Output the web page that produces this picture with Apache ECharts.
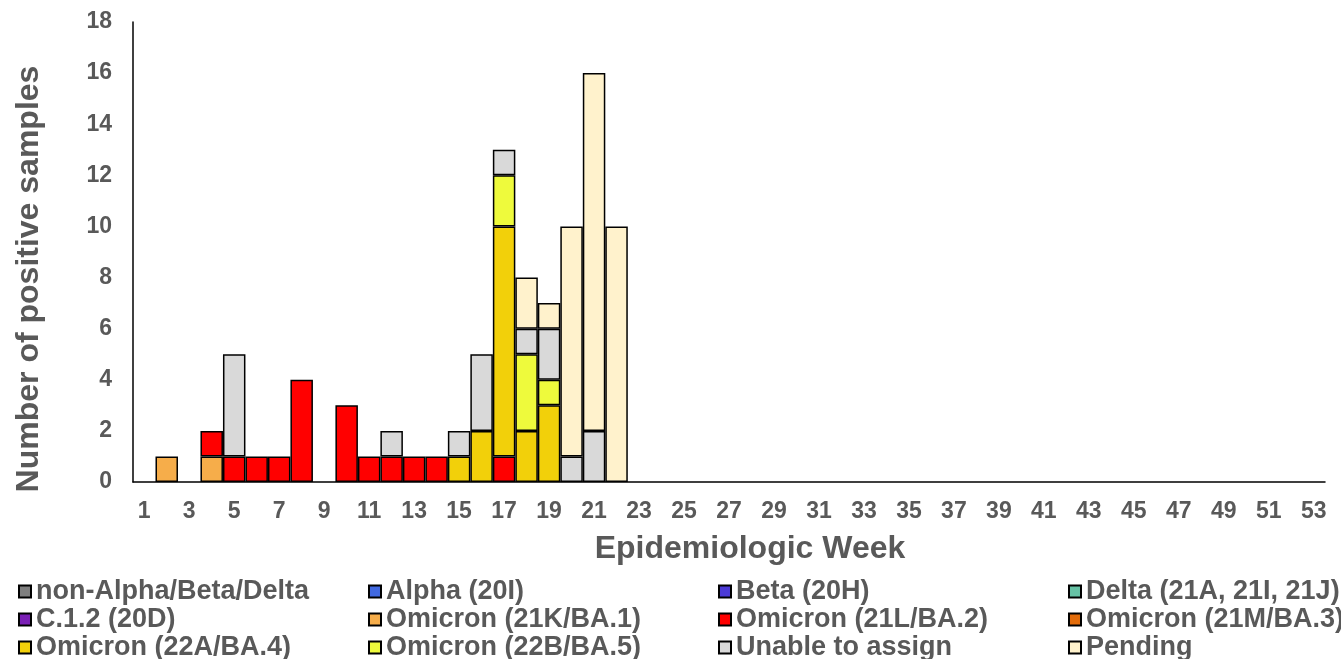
<!DOCTYPE html>
<html>
<head>
    <meta charset="utf-8">
    <script src="https://cdn.jsdelivr.net/npm/echarts@6/dist/echarts.min.js"></script>
    <style>
        html, body { margin: 0; padding: 0; background: #fff; }
    </style>
</head>
<body>
    <div id="main" style="width: 1341px; height: 659px"></div>
    <script type="text/javascript">
        // weeks 1..53
        var weeks = [];
        for (var w = 1; w <= 53; w++) weeks.push(String(w));

        // counts for weeks 1..22 (later weeks are all zero)
        var ba1     = [0,1,0,1,0,0,0,0,0,0,0,0,0,0,0,0,0,0,0,0,0,0];
        var ba2     = [0,0,0,1,1,1,1,4,0,3,1,1,1,1,0,0,1,0,0,0,0,0];
        var ba4     = [0,0,0,0,0,0,0,0,0,0,0,0,0,0,1,2,9,2,3,0,0,0];
        var ba5     = [0,0,0,0,0,0,0,0,0,0,0,0,0,0,0,0,2,3,1,0,0,0];
        var unable  = [0,0,0,0,4,0,0,0,0,0,0,1,0,0,1,3,1,1,2,1,2,0];
        var pending = [0,0,0,0,0,0,0,0,0,0,0,0,0,0,0,0,0,2,1,9,14,10];
        var none    = [];

        var lineages = [
            { name: 'non-Alpha/Beta/Delta', color: '#7f7f7f', data: none },
            { name: 'Alpha (20I)', color: '#4169e1', data: none },
            { name: 'Beta (20H)', color: '#4b3ad6', data: none },
            { name: 'Delta (21A, 21I, 21J)', color: '#66c2a5', data: none },
            { name: 'C.1.2 (20D)', color: '#7a1fb5', data: none },
            { name: 'Omicron (21K/BA.1)', color: '#f6ad4a', data: ba1 },
            { name: 'Omicron (21L/BA.2)', color: '#ff0000', data: ba2 },
            { name: 'Omicron (21M/BA.3)', color: '#e36c0a', data: none },
            { name: 'Omicron (22A/BA.4)', color: '#f2d00a', data: ba4 },
            { name: 'Omicron (22B/BA.5)', color: '#eefa3c', data: ba5 },
            { name: 'Unable to assign', color: '#d9d9d9', data: unable },
            { name: 'Pending', color: '#fff2cc', data: pending }
        ];

        function pad(arr) {
            var out = [];
            for (var i = 0; i < weeks.length; i++) {
                var v = i < arr.length ? arr[i] : 0;
                out.push(v > 0 ? v : '-');
            }
            return out;
        }

        var serie = lineages.map(function (l) {
            return {
                name: l.name,
                type: 'bar',
                stack: 'total',
                barCategoryGap: '0%',
                data: pad(l.data),
                itemStyle: { color: l.color, borderColor: '#000', borderWidth: 1.5 }
            };
        });

        var textColor = '#595959';
        var legendCols = [
            { left: 13, names: [0, 4, 8] },
            { left: 363, names: [1, 5, 9] },
            { left: 713, names: [2, 6, 10] },
            { left: 1063, names: [3, 7, 11] }
        ];
        var legends = legendCols.map(function (c) {
            return {
                orient: 'vertical',
                left: c.left,
                top: 573,
                height: 100,
                itemGap: 1,
                itemWidth: 12,
                itemHeight: 12,
                icon: 'rect',
                selectedMode: false,
                textStyle: { color: textColor, fontFamily: 'Arial', fontWeight: 'bold', fontSize: 27, lineHeight: 22 },
                data: c.names.map(function (i) { return lineages[i].name; })
            };
        });

        var myChart = echarts.init(document.getElementById('main'));
        var option = {
            animation: false,
            legend: legends,
            grid: { left: 133, right: 16, top: 22, bottom: 177, containLabel: false, outerBoundsMode: 'none' },
            xAxis: {
                type: 'category',
                data: weeks,
                name: 'Epidemiologic Week',
                nameLocation: 'middle',
                nameGap: 51,
                nameTextStyle: { color: textColor, fontFamily: 'Arial', fontWeight: 'bold', fontSize: 32, padding: [0, 0, 0, 42] },
                axisLine: { lineStyle: { color: '#000', width: 1.5 } },
                axisTick: { show: false },
                axisLabel: { interval: 1, color: textColor, fontFamily: 'Arial', fontWeight: 'bold', fontSize: 23, margin: 18 }
            },
            yAxis: {
                type: 'value',
                min: 0,
                max: 18,
                interval: 2,
                name: 'Number of positive samples',
                nameLocation: 'middle',
                nameGap: 88,
                nameTextStyle: { color: textColor, fontFamily: 'Arial', fontWeight: 'bold', fontSize: 32, padding: [0, 54, 0, 0] },
                axisLine: { show: true, lineStyle: { color: '#000', width: 1.5 } },
                axisTick: { show: false },
                splitLine: { show: false },
                axisLabel: { color: textColor, fontFamily: 'Arial', fontWeight: 'bold', fontSize: 23, margin: 21 }
            },
            series: serie
        };
        myChart.setOption(option);
    </script>
</body>
</html>
